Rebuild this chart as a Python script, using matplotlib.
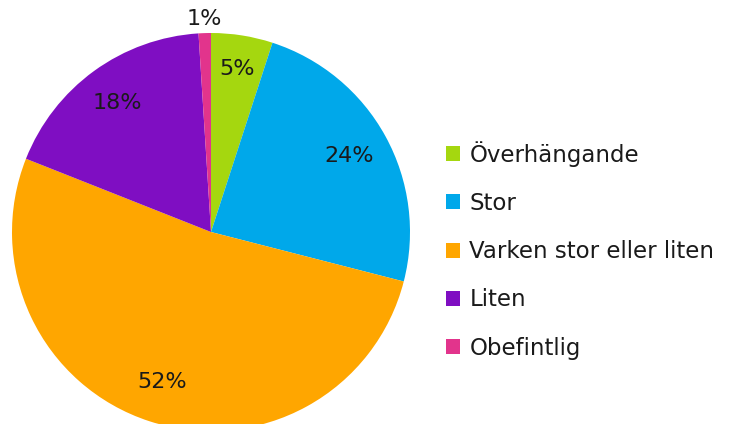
import matplotlib
matplotlib.use("Agg")
import matplotlib.pyplot as plt
import numpy as np

categories = ["Överhängande", "Stor", "Varken stor eller liten", "Liten", "Obefintlig"]
values = [5, 24, 52, 18, 1]
colors = ["#A5D70F", "#00A8EA", "#FFA600", "#7F0EC2", "#E2348C"]
label_dist = [0.83, 0.79, 0.79, 0.80, 1.07]

plt.rcParams["font.family"] = ["DejaVu Sans"]

W, H = 734, 424
cx, cy, r = 211, 232, 199

fig = plt.figure(figsize=(W / 100, H / 100), dpi=100)
ax = fig.add_axes([0, 0, 1, 1])

wedges, _ = ax.pie(values, colors=colors, startangle=90, counterclock=False,
                   radius=1.0, wedgeprops=dict(linewidth=0))

ax.set_aspect("auto")
ax.set_xlim(-cx / r, (W - cx) / r)
ax.set_ylim((cy - H) / r, cy / r)
ax.axis("off")

total = sum(values)
start = 90.0
for v, d in zip(values, label_dist):
    mid = np.deg2rad(start - 360 * v / total / 2)
    start -= 360 * v / total
    ax.text(d * np.cos(mid), d * np.sin(mid), f"{v}%", ha="center", va="center",
            fontsize=16, color="#1a1a1a")

leg = ax.legend(wedges, categories, loc="upper left", bbox_to_anchor=(446 / W, 1 - 141 / H),
                frameon=False, fontsize=16.5, handlelength=0.62, handleheight=0.62,
                handletextpad=0.4, labelspacing=1.1, borderaxespad=0, borderpad=0)
for t in leg.get_texts():
    t.set_color("#1a1a1a")

fig.savefig("out.png", dpi=100)
